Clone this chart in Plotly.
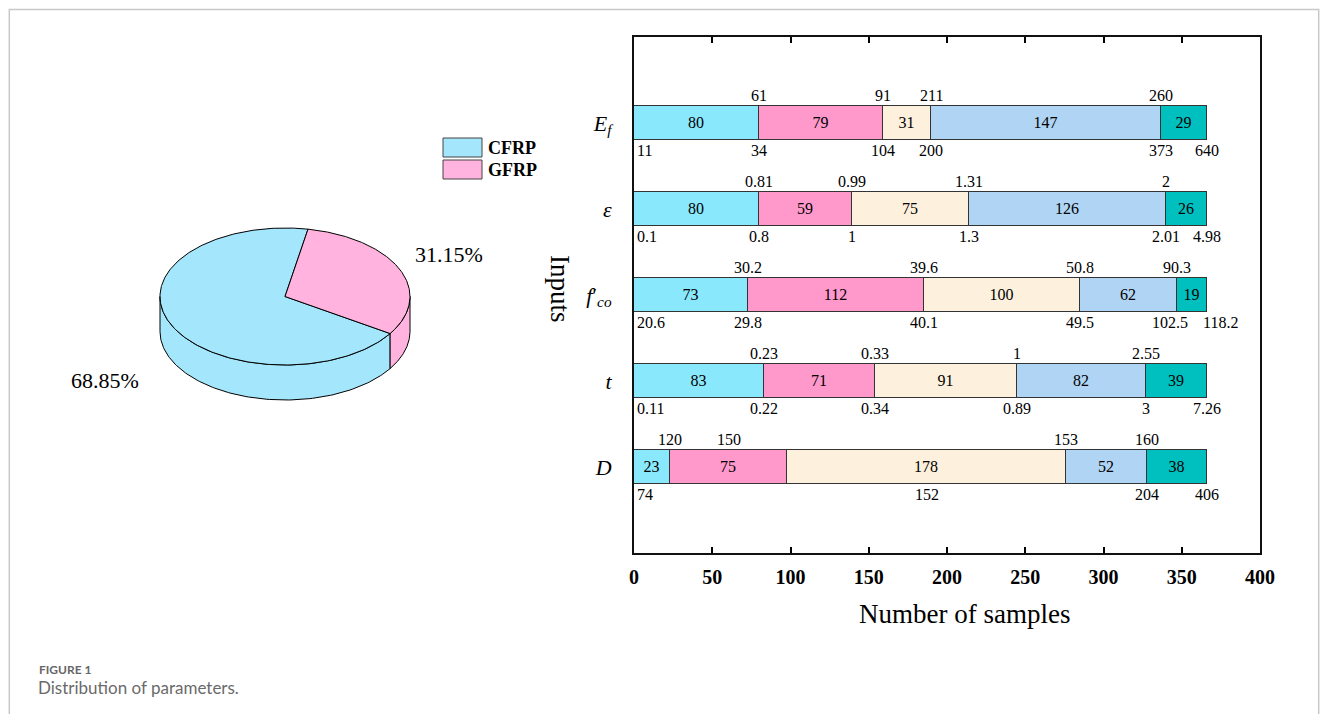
import numpy as np
import plotly.graph_objects as go

# page has an 8px body margin: figure is 16px smaller than the window
OFF = 8
W, H = 1328 - 2 * OFF, 722 - 2 * OFF
SERIF = "Liberation Serif"

# ---------------- data ----------------
rows = ["<i>E</i><sub><i>f</i></sub>", "<i>ε</i>", "<i>f</i>′<sub><i>co</i></sub>", "<i>t</i>", "<i>D</i>"]
row_pos = [4, 3, 2, 1, 0]

counts_Ef = [80, 79, 31, 147, 29]
counts_eps = [80, 59, 75, 126, 26]
counts_fco = [73, 112, 100, 62, 19]
counts_t = [83, 71, 91, 82, 39]
counts_D = [23, 75, 178, 52, 38]
all_counts = [counts_Ef, counts_eps, counts_fco, counts_t, counts_D]

top_Ef = ["61", "91", "211", "260"]
bot_Ef = ["11", "34", "104", "200", "373", "640"]
top_eps = ["0.81", "0.99", "1.31", "2"]
bot_eps = ["0.1", "0.8", "1", "1.3", "2.01", "4.98"]
top_fco = ["30.2", "39.6", "50.8", "90.3"]
bot_fco = ["20.6", "29.8", "40.1", "49.5", "102.5", "118.2"]
top_t = ["0.23", "0.33", "1", "2.55"]
bot_t = ["0.11", "0.22", "0.34", "0.89", "3", "7.26"]
top_D = ["120", "150", "153", "160"]
bot_D = ["74", "152", "204", "406"]
# boundary index each label refers to (0 = bar start, 5 = bar end, .5 = mid segment)
top_at_std = [1, 2, 3, 4]
bot_at_std = [0, 1, 2, 3, 4, 5]
top_at_D = [1, 1.5, 3, 4]
bot_at_D = [0, 2.5, 4, 5]
all_top = [(top_Ef, top_at_std), (top_eps, top_at_std), (top_fco, top_at_std), (top_t, top_at_std), (top_D, top_at_D)]
all_bot = [(bot_Ef, bot_at_std), (bot_eps, bot_at_std), (bot_fco, bot_at_std), (bot_t, bot_at_std), (bot_D, bot_at_D)]

x_ticks = [0, 50, 100, 150, 200, 250, 300, 350, 400]

pie_labels = ["CFRP", "GFRP"]
pie_shares = [68.85, 31.15]

# ---------------- style ----------------
seg_colors = ["#8AE8FC", "#FF99CC", "#FDF0DC", "#B0D4F4", "#00BFBF"]
pie_colors = ["#A4E6FC", "#FFB3DE"]
label_xshift = {"102.5": -7, "118.2": 14}

def px(x):
    return (x - OFF) / W

def py(y):
    return 1 - (y - OFF) / H

def note(x, y, text, size, family=SERIF, xanchor="center", yanchor="middle", **kw):
    font = dict(family=family, size=size, color=kw.pop("color", "black"))
    if "weight" in kw:
        font["weight"] = kw.pop("weight")
    return dict(x=px(x), y=py(y), xref="paper", yref="paper", text=text, showarrow=False,
                xanchor=xanchor, yanchor=yanchor, font=font, **kw)

fig = go.Figure()

# ---------------- stacked bars ----------------
for i in range(5):
    vals = [c[i] for c in all_counts]
    fig.add_trace(go.Bar(
        x=vals, y=row_pos, orientation="h", width=0.4,
        marker=dict(color=seg_colors[i], line=dict(color="#333333", width=1)),
        text=[str(v) for v in vals], textposition="inside", insidetextanchor="middle",
        textangle=0, constraintext="none",
        textfont=dict(family=SERIF, size=16, color="black"),
        insidetextfont=dict(family=SERIF, size=16, color="black"),
        hoverinfo="skip", showlegend=False, xaxis="x", yaxis="y"))

annotations = []

def bx(cum, k):
    if float(k).is_integer():
        return cum[int(k)]
    k0 = int(np.floor(k))
    return (cum[k0] + cum[k0 + 1]) / 2

for r, counts in enumerate(all_counts):
    cum = np.concatenate([[0], np.cumsum(counts)])
    yc = row_pos[r]
    labels, ats = all_top[r]
    for txt, k in zip(labels, ats):
        annotations.append(dict(x=bx(cum, k), y=yc + 0.2, xref="x", yref="y", text=txt,
                                showarrow=False, yanchor="bottom", xanchor="center", yshift=0,
                                font=dict(family=SERIF, size=16, color="black")))
    labels, ats = all_bot[r]
    for txt, k in zip(labels, ats):
        xa = "left" if k == 0 else "center"
        xs = 1 if k == 0 else label_xshift.get(txt, 0)
        annotations.append(dict(x=bx(cum, k), y=yc - 0.2, xref="x", yref="y", text=txt,
                                showarrow=False, yanchor="top", xanchor=xa, yshift=0,
                                xshift=xs,
                                font=dict(family=SERIF, size=16, color="black")))

# ---------------- pseudo-3D pie ----------------
RY = 68.5 / 125
DEPTH = 35 / 125
START = 10.6  # degrees clockwise from top where GFRP begins

def rim(a0, a1, n=120, dy=0.0):
    t = np.radians(np.linspace(a0, a1, n))
    return np.sin(t), RY * np.cos(t) - dy

g_sweep = pie_shares[1] * 3.6
c_sweep = pie_shares[0] * 3.6
spans = {1: (START, START + g_sweep), 0: (START + g_sweep, START + g_sweep + c_sweep)}

for idx in [0, 1]:
    a0, a1 = spans[idx]
    lo, hi = max(a0, 90), min(a1, 270)
    if hi <= lo:
        continue
    xt, yt = rim(lo, hi)
    xb, yb = rim(hi, lo, dy=DEPTH)
    xs = np.concatenate([xt, xb, xt[:1]])
    ys = np.concatenate([yt, yb, yt[:1]])
    fig.add_trace(go.Scatter(x=xs, y=ys, mode="lines", fill="toself",
                             fillcolor=pie_colors[idx], line=dict(color="black", width=1),
                             hoverinfo="skip", showlegend=False, xaxis="x2", yaxis="y2"))

for idx in [0, 1]:
    a0, a1 = spans[idx]
    xa, ya = rim(a0, a1, n=240)
    xs = np.concatenate([[0], xa, [0]])
    ys = np.concatenate([[0], ya, [0]])
    fig.add_trace(go.Scatter(x=xs, y=ys, mode="lines", fill="toself",
                             fillcolor=pie_colors[idx], line=dict(color="black", width=1),
                             hoverinfo="skip", showlegend=False, xaxis="x2", yaxis="y2"))

annotations.append(note(449, 254, f"{pie_shares[1]:.2f}%", 22))
annotations.append(note(105, 380, f"{pie_shares[0]:.2f}%", 22))

# pie legend
shapes = []
for i, (lab, col) in enumerate(zip(pie_labels, pie_colors)):
    y0 = 138 + i * 22
    shapes.append(dict(type="rect", xref="paper", yref="paper",
                       x0=px(443), x1=px(482), y0=py(y0), y1=py(y0 + 19),
                       fillcolor=col, line=dict(color="#444444", width=1)))
    annotations.append(note(486, y0 + 10, f"<b>{lab}</b>", 18, xanchor="left"))

# axis titles
annotations.append(note(965, 614, "Number of samples", 27))
annotations.append(note(560, 289, "Inputs", 27, textangle=90))

# caption
annotations.append(note(37, 669, "FIGURE 1", 12, family="Lato", xanchor="left",
                        color="#666666", weight="bold"))
annotations.append(note(36, 687, "Distribution of parameters.", 17, family="Lato",
                        xanchor="left", color="#6a6a6a"))

# page frame (drawn at the figure edges)
fr = "#c8c8c8"
shapes.append(dict(type="path", xref="paper", yref="paper",
                   path=f"M 0.001,0 L 0.001,0.998 L 0.999,0.998 L 0.999,0",
                   line=dict(color=fr, width=1.5)))

fig.update_layout(
    width=W, height=H, margin=dict(l=0, r=0, t=0, b=0),
    paper_bgcolor="white", plot_bgcolor="white",
    barmode="stack", bargap=0, showlegend=False,
    xaxis=dict(domain=[px(634), px(1260)], range=[0, 400], tickvals=x_ticks,
               ticks="inside", ticklen=6, tickwidth=1.5, tickcolor="black",
               showline=True, linewidth=2, linecolor="#111111", mirror="ticks",
               showgrid=False, zeroline=False, ticklabelstandoff=5, automargin=False,
               tickfont=dict(family=SERIF, size=20, color="black", weight="bold"),
               anchor="y"),
    yaxis=dict(domain=[py(553), py(37)], range=[-1, 5], tickvals=row_pos, ticktext=rows,
               ticks="", showline=True, linewidth=2, linecolor="#111111", mirror=True,
               showgrid=False, zeroline=False, ticklabelstandoff=16, automargin=False,
               tickfont=dict(family=SERIF, size=22, color="black"), anchor="x"),
    xaxis2=dict(domain=[px(110), px(460)], range=[-1.4, 1.4], visible=False, anchor="y2"),
    yaxis2=dict(domain=[py(420), py(200)], range=[-0.988, 0.772], visible=False, anchor="x2"),
    annotations=annotations, shapes=shapes,
)

fig.write_html("out.html")
